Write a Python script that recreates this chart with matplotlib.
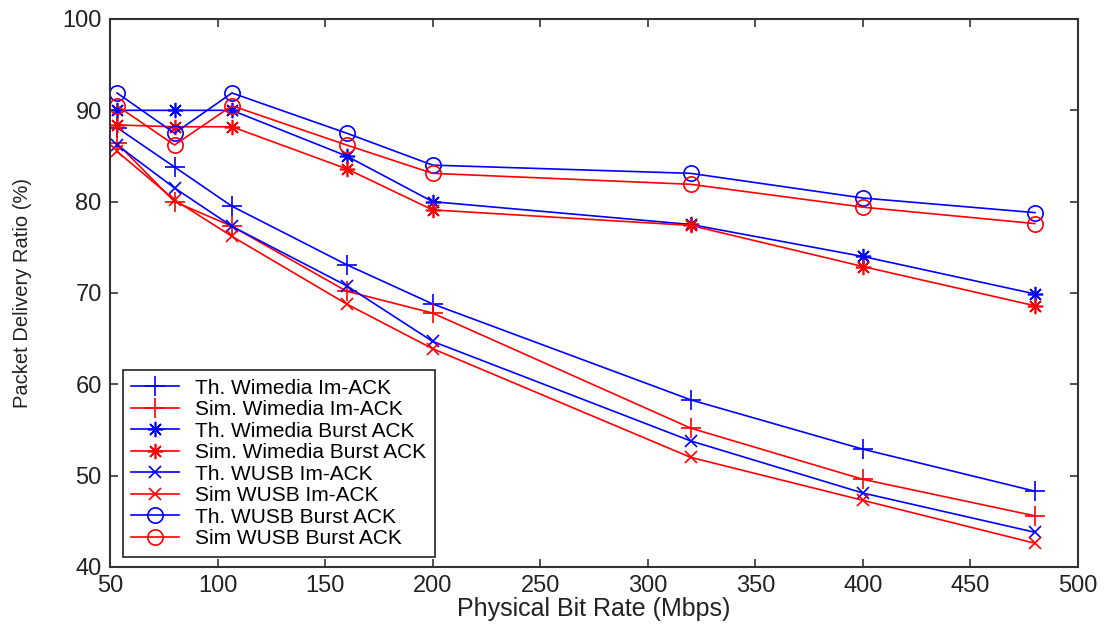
import numpy as np
import matplotlib.pyplot as plt

# Data
rate = [53.3, 80, 106.7, 160, 200, 320, 400, 480]

th_wimedia_im = [88.1, 83.8, 79.5, 73.1, 68.8, 58.3, 52.9, 48.3]
sim_wimedia_im = [86.4, 80.0, 77.3, 70.2, 67.8, 55.2, 49.6, 45.6]
th_wimedia_burst = [90.0, 90.0, 90.0, 85.0, 80.0, 77.5, 74.0, 69.9]
sim_wimedia_burst = [88.4, 88.2, 88.2, 83.6, 79.1, 77.4, 72.9, 68.6]
th_wusb_im = [86.2, 81.5, 77.3, 70.8, 64.7, 53.8, 48.1, 43.8]
sim_wusb_im = [85.5, 80.2, 76.2, 68.8, 63.9, 52.0, 47.3, 42.6]
th_wusb_burst = [91.9, 87.5, 91.9, 87.5, 84.0, 83.1, 80.4, 78.8]
sim_wusb_burst = [90.5, 86.2, 90.5, 86.2, 83.1, 81.9, 79.4, 77.6]

labels = ['Th. Wimedia Im-ACK', 'Sim. Wimedia Im-ACK',
          'Th. Wimedia Burst ACK', 'Sim. Wimedia Burst ACK',
          'Th. WUSB Im-ACK', 'Sim WUSB Im-ACK',
          'Th. WUSB Burst ACK', 'Sim WUSB Burst ACK']

plt.rcParams['font.family'] = ['Liberation Sans', 'DejaVu Sans']

fig = plt.figure(figsize=(11.12, 6.27), dpi=100)
ax = fig.add_axes([0.0989, 0.0957, 0.8705, 0.874])

star = (8, 2, 0)
series = [
    (th_wimedia_im, 'blue', '+', 14),
    (sim_wimedia_im, 'red', '+', 14),
    (th_wimedia_burst, 'blue', star, 11),
    (sim_wimedia_burst, 'red', star, 11),
    (th_wusb_im, 'blue', 'x', 8),
    (sim_wusb_im, 'red', 'x', 8),
    (th_wusb_burst, 'blue', 'o', 11),
    (sim_wusb_burst, 'red', 'o', 11),
]
for (vals, c, m, ms), lab in zip(series, labels):
    ax.plot(rate, vals, color=c, marker=m, markersize=ms, linewidth=1.2,
            markerfacecolor='none', markeredgecolor=c, markeredgewidth=1.2,
            label=lab)

ax.set_xlim(50, 500)
ax.set_ylim(40, 100)
ax.set_xticks(np.arange(50, 501, 50))
ax.set_yticks(np.arange(40, 101, 10))
ax.tick_params(direction='in', length=6, width=1.2, top=True, right=True,
               labelsize=17, colors='#333333', labelcolor='#222222', pad=6)
for s in ax.spines.values():
    s.set_linewidth(1.5)
    s.set_color('#333333')

ax.set_xlabel('Physical Bit Rate (Mbps)', fontsize=18, color='#222222',
              labelpad=0)
ax.set_ylabel('Packet Delivery Ratio (%)', fontsize=14.5, color='#222222',
              labelpad=22)

leg = ax.legend(loc='lower left', bbox_to_anchor=(0.013, 0.019), fontsize=15,
                fancybox=False, edgecolor='#222222', framealpha=1,
                handlelength=2.3, handletextpad=0.8, labelspacing=0.12,
                borderpad=0.4, borderaxespad=0)
leg.get_frame().set_linewidth(1.2)

plt.savefig('out.png', dpi=100)
